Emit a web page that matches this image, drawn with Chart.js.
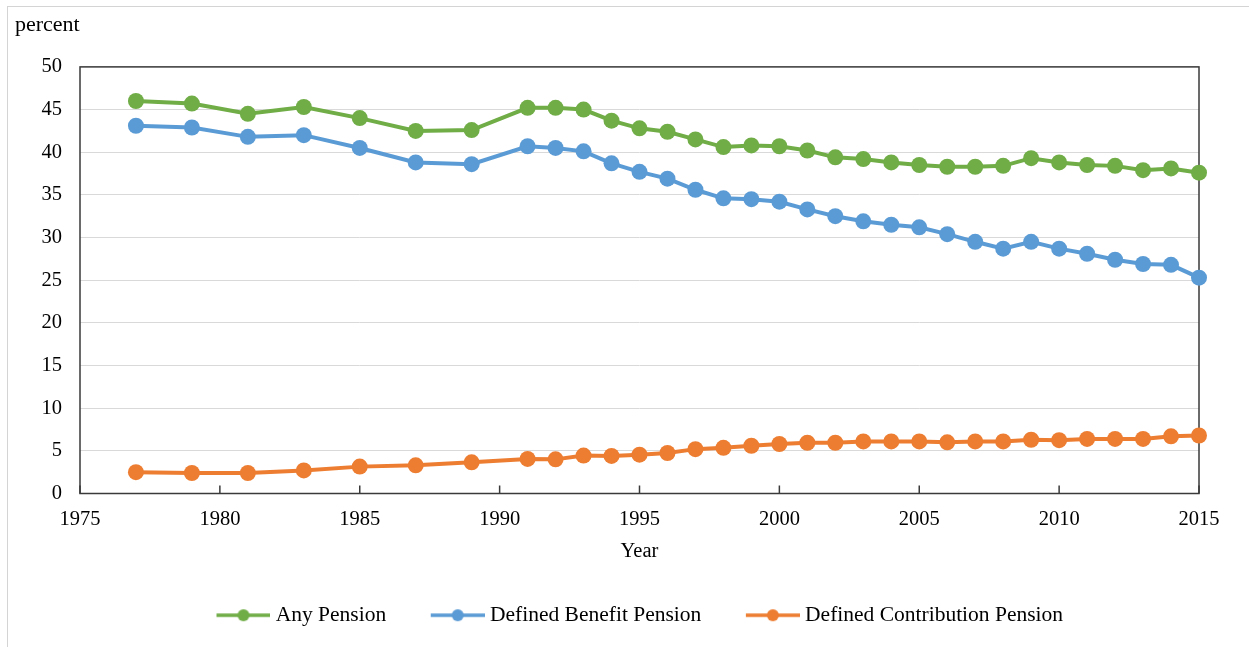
<!DOCTYPE html>
<html lang="en">
<head>
  <meta charset="UTF-8" />
  <title>Pension coverage</title>
  <script src="https://cdn.jsdelivr.net/npm/chart.js"></script>
  <style>
    html, body { margin: 0; padding: 0; background: #fff; overflow: hidden; }
    #frame { position: absolute; left: 7px; top: 6px; width: 1300px; height: 700px; border: 1px solid #d4d4d4; pointer-events: none; }
    #c { position: absolute; left: 0; top: 0; }
  </style>
</head>
<body>
  <div id="frame"></div>
  <canvas id="c" width="1249" height="647"></canvas>

  <script>
    const years = [1977, 1979, 1981, 1983, 1985, 1987, 1989, 1991, 1992, 1993, 1994, 1995, 1996, 1997, 1998, 1999,
      2000, 2001, 2002, 2003, 2004, 2005, 2006, 2007, 2008, 2009, 2010, 2011, 2012, 2013, 2014, 2015];
    const anyPension = [46.0, 45.7, 44.5, 45.3, 44.0, 42.5, 42.6, 45.2, 45.2, 45.0, 43.7, 42.8, 42.4, 41.5, 40.6, 40.8,
      40.7, 40.2, 39.4, 39.2, 38.8, 38.5, 38.3, 38.3, 38.4, 39.3, 38.8, 38.5, 38.4, 37.9, 38.1, 37.6];
    const definedBenefit = [43.1, 42.9, 41.8, 42.0, 40.5, 38.8, 38.6, 40.7, 40.5, 40.1, 38.7, 37.7, 36.9, 35.6, 34.6, 34.5,
      34.2, 33.3, 32.5, 31.9, 31.5, 31.2, 30.4, 29.5, 28.7, 29.5, 28.7, 28.1, 27.4, 26.9, 26.8, 25.3];
    const definedContribution = [2.5, 2.4, 2.4, 2.7, 3.15, 3.3, 3.65, 4.05, 4.0, 4.45, 4.4, 4.55, 4.75, 5.2, 5.35, 5.6,
      5.8, 5.95, 5.95, 6.1, 6.1, 6.1, 6.0, 6.1, 6.1, 6.3, 6.25, 6.4, 6.4, 6.4, 6.7, 6.8];
    const seriesNames = ['Any Pension', 'Defined Benefit Pension', 'Defined Contribution Pension'];
    const seriesColors = ['#70AD47', '#5B9BD5', '#ED7D31'];

    const FONT = 'Liberation Serif, "Times New Roman", serif';

    // legend sample: a short line with a dot, padded on the left so it sits right before the text
    function legendSample(color) {
      const w = 95, h = 14, sw = 54;
      const cv = document.createElement('canvas');
      cv.width = w; cv.height = h;
      const g = cv.getContext('2d');
      g.strokeStyle = color; g.lineWidth = 3.5;
      g.beginPath(); g.moveTo(w - sw, h / 2); g.lineTo(w, h / 2); g.stroke();
      g.fillStyle = color;
      g.beginPath(); g.arc(w - sw / 2, h / 2, 6, 0, Math.PI * 2); g.fill();
      return cv;
    }

    const frameAndTicks = {
      id: 'frameAndTicks',
      afterLayout(chart) {
        // nudge the legend a little to the right, as in the source
        chart.legend.left += 15;
        chart.legend.right += 15;
      },
      beforeDatasetsDraw(chart) {
        const { ctx, chartArea: a, scales: { x } } = chart;
        ctx.save();
        ctx.strokeStyle = '#3a3a3a';
        ctx.lineWidth = 1.5;
        ctx.strokeRect(a.left, a.top, a.right - a.left, a.bottom - a.top);
        x.ticks.forEach(t => {
          const px = x.getPixelForValue(t.value);
          ctx.beginPath();
          ctx.moveTo(px, a.bottom);
          ctx.lineTo(px, a.bottom - 8);
          ctx.stroke();
        });
        ctx.restore();
      }
    };

    const series = [anyPension, definedBenefit, definedContribution];

    new Chart(document.getElementById('c'), {
      type: 'line',
      data: {
        datasets: series.map((vals, i) => ({
          label: seriesNames[i],
          data: years.map((yr, j) => ({ x: yr, y: vals[j] })),
          borderColor: seriesColors[i],
          backgroundColor: seriesColors[i],
          pointBackgroundColor: seriesColors[i],
          pointBorderColor: seriesColors[i],
          borderWidth: 4,
          pointRadius: 8,
          pointBorderWidth: 0,
          tension: 0,
          clip: false
        }))
      },
      options: {
        responsive: false,
        animation: false,
        layout: { padding: { left: 15, right: 50, top: 0, bottom: 11 } },
        plugins: {
          title: {
            display: true,
            text: 'percent',
            align: 'start',
            color: '#000',
            font: { family: FONT, size: 22, weight: 'normal' },
            padding: { top: 12, bottom: 28.5 }
          },
          legend: {
            position: 'bottom',
            labels: {
              color: '#000',
              font: { family: FONT, size: 21.5 },
              usePointStyle: true,
              pointStyleWidth: 84,
              padding: 9,
              generateLabels(chart) {
                return chart.data.datasets.map((ds, i) => ({
                  text: ds.label,
                  datasetIndex: i,
                  fontColor: '#000',
                  pointStyle: legendSample(seriesColors[i]),
                  lineWidth: 0,
                  hidden: false
                }));
              }
            }
          },
          tooltip: { enabled: false }
        },
        scales: {
          x: {
            type: 'linear',
            min: 1975,
            max: 2015,
            grid: { display: false, drawTicks: false },
            border: { display: false },
            ticks: { stepSize: 5, color: '#000', padding: 14, font: { family: FONT, size: 20.5 }, callback: v => String(v) },
            title: {
              display: true,
              text: 'Year',
              color: '#000',
              font: { family: FONT, size: 20.5 },
              padding: { top: 4, bottom: 32 }
            },
            afterFit(scale) { scale.height = 102; }
          },
          y: {
            min: 0,
            max: 50,
            grid: { color: '#d9d9d9', lineWidth: 1, drawTicks: false },
            border: { display: false },
            ticks: { stepSize: 5, color: '#000', padding: 18, font: { family: FONT, size: 20.5 } },
            afterFit(scale) { scale.width = 65; }
          }
        }
      },
      plugins: [frameAndTicks]
    });
  </script>
</body>
</html>
